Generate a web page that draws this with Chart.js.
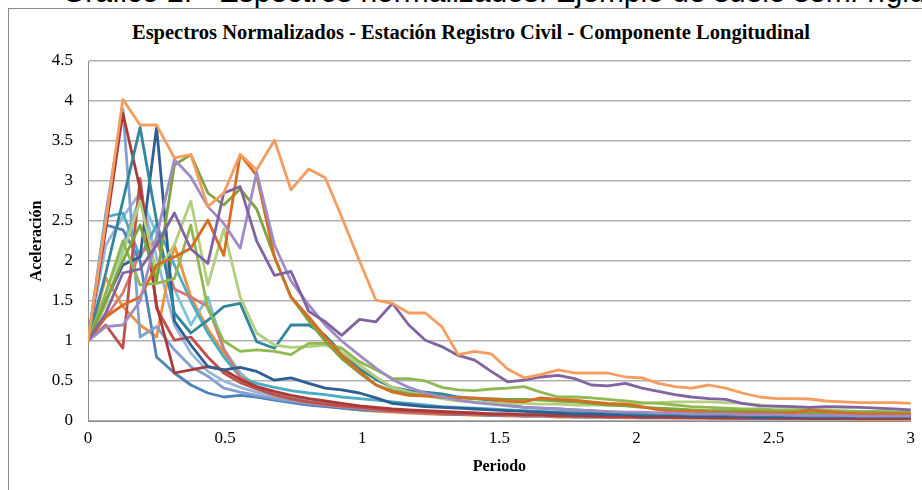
<!DOCTYPE html>
<html>
<head>
<meta charset="utf-8">
<script src="https://cdn.jsdelivr.net/npm/chart.js@4.4.1/dist/chart.umd.min.js"></script>
<style>
  html, body { margin: 0; padding: 0; background: #fff; width: 922px; height: 490px; overflow: hidden; }
  #pie { position: absolute; left: 0; top: -23px; width: 1100px; padding-left: 62px; box-sizing: border-box;
         font: 30px "Liberation Sans", Arial, sans-serif; line-height: 30px; white-space: nowrap; color: #000; }
  #marco { position: absolute; left: 8px; top: 8px; width: 1000px; height: 600px;
           border-left: 1px solid #8a8a8a; border-top: 1px solid #8a8a8a; }
  #titulo { position: absolute; left: 0; top: 20px; width: 942px; text-align: center;
            font: bold 20.5px "Liberation Serif", "Times New Roman", serif; line-height: 24px; color: #000; white-space: nowrap; }
  #lienzo { position: absolute; left: 0; top: 0; }
</style>
</head>
<body>
<div id="pie">Gráfico 2. - Espectros normalizados: Ejemplo de suelo semi-rígido</div>
<div id="marco"></div>
<div id="titulo">Espectros Normalizados - Estación Registro Civil - Componente Longitudinal</div>
<canvas id="lienzo" width="922" height="490"></canvas>
<script>
// Periodos (s)
const periodos = [0, 0.065, 0.127, 0.19, 0.25, 0.315, 0.375, 0.437, 0.495, 0.555,
  0.615, 0.68, 0.74, 0.805, 0.865, 0.925, 0.99, 1.05, 1.11, 1.17,
  1.23, 1.29, 1.35, 1.41, 1.47, 1.53, 1.59, 1.65, 1.715, 1.775,
  1.835, 1.895, 1.96, 2.02, 2.08, 2.14, 2.2, 2.265, 2.325, 2.385,
  2.45, 2.51, 2.57, 2.63, 2.69, 2.755, 2.815, 2.875, 2.94, 3.0];

// Aceleraciones espectrales normalizadas, un registro por arreglo
const registro01 = [1.00, 2.50, 4.02, 3.70, 3.70, 3.29, 3.33, 2.68, 2.85, 3.33,
  3.14, 3.51, 2.89, 3.15, 3.04, 2.55, 2.00, 1.51, 1.47, 1.35,
  1.35, 1.18, 0.83, 0.87, 0.84, 0.65, 0.54, 0.58, 0.64, 0.60,
  0.60, 0.60, 0.55, 0.54, 0.47, 0.43, 0.41, 0.45, 0.41, 0.35,
  0.30, 0.28, 0.28, 0.275, 0.25, 0.24, 0.23, 0.23, 0.23, 0.22];
const registro02 = [1.00, 1.35, 1.85, 1.90, 2.20, 2.60, 2.15, 1.97, 2.85, 2.93,
  2.25, 1.82, 1.87, 1.37, 1.24, 1.07, 1.27, 1.24, 1.47, 1.20,
  1.01, 0.93, 0.82, 0.76, 0.62, 0.49, 0.51, 0.55, 0.57, 0.53,
  0.45, 0.44, 0.47, 0.41, 0.37, 0.33, 0.30, 0.28, 0.27, 0.22,
  0.19, 0.185, 0.18, 0.17, 0.18, 0.175, 0.17, 0.16, 0.15, 0.14];
const registro03 = [1.00, 1.18, 1.20, 1.50, 2.30, 3.27, 3.05, 2.68, 2.47, 2.16,
  3.11, 2.20, 1.75, 1.45, 1.20, 1.00, 0.82, 0.66, 0.52, 0.42,
  0.35, 0.30, 0.26, 0.23, 0.21, 0.19, 0.17, 0.16, 0.15, 0.14,
  0.13, 0.12, 0.11, 0.11, 0.10, 0.10, 0.09, 0.09, 0.09, 0.08,
  0.08, 0.08, 0.07, 0.07, 0.07, 0.07, 0.06, 0.06, 0.06, 0.06];
const registro04 = [1.00, 1.30, 1.45, 1.55, 1.95, 2.05, 2.16, 2.51, 2.07, 3.33,
  3.07, 2.05, 1.55, 1.30, 1.05, 0.82, 0.62, 0.45, 0.36, 0.32,
  0.31, 0.30, 0.29, 0.29, 0.27, 0.25, 0.24, 0.29, 0.27, 0.26,
  0.24, 0.22, 0.21, 0.18, 0.14, 0.12, 0.12, 0.11, 0.10, 0.10,
  0.10, 0.10, 0.10, 0.14, 0.12, 0.10, 0.09, 0.09, 0.09, 0.09];
const registro05 = [1.00, 1.50, 2.00, 2.45, 1.75, 3.20, 3.33, 2.85, 2.70, 2.90,
  2.65, 2.05, 1.55, 1.25, 1.00, 0.78, 0.60, 0.45, 0.38, 0.34,
  0.32, 0.30, 0.29, 0.28, 0.28, 0.27, 0.27, 0.26, 0.25, 0.24,
  0.22, 0.20, 0.19, 0.17, 0.16, 0.15, 0.14, 0.13, 0.13, 0.12,
  0.12, 0.11, 0.11, 0.10, 0.10, 0.10, 0.10, 0.10, 0.10, 0.09];
const registro06 = [1.00, 1.60, 2.25, 1.70, 1.72, 1.78, 2.45, 1.40, 1.00, 0.87,
  0.89, 0.87, 0.83, 0.97, 0.97, 0.91, 0.74, 0.64, 0.53, 0.53,
  0.50, 0.42, 0.39, 0.38, 0.40, 0.41, 0.43, 0.36, 0.30, 0.30,
  0.29, 0.27, 0.25, 0.23, 0.22, 0.20, 0.18, 0.17, 0.16, 0.15,
  0.15, 0.14, 0.14, 0.13, 0.13, 0.12, 0.12, 0.12, 0.11, 0.11];
const registro07 = [1.00, 1.45, 2.10, 2.75, 1.85, 2.20, 2.75, 1.70, 2.40, 1.55,
  1.10, 0.95, 0.92, 0.93, 0.95, 0.86, 0.70, 0.55, 0.42, 0.36,
  0.32, 0.28, 0.25, 0.24, 0.23, 0.22, 0.22, 0.21, 0.21, 0.20,
  0.20, 0.20, 0.21, 0.22, 0.23, 0.24, 0.24, 0.24, 0.23, 0.22,
  0.20, 0.18, 0.17, 0.15, 0.14, 0.13, 0.12, 0.12, 0.11, 0.11];
const registro08 = [1.00, 1.85, 2.75, 3.67, 2.50, 1.35, 1.10, 1.26, 1.43, 1.47,
  0.99, 0.91, 1.20, 1.20, 1.07, 0.85, 0.65, 0.52, 0.42, 0.38,
  0.36, 0.34, 0.30, 0.28, 0.26, 0.20, 0.17, 0.16, 0.15, 0.14,
  0.13, 0.11, 0.10, 0.09, 0.09, 0.09, 0.08, 0.08, 0.08, 0.07,
  0.07, 0.07, 0.07, 0.06, 0.06, 0.06, 0.06, 0.06, 0.06, 0.06];
const registro09 = [1.00, 1.50, 1.95, 2.05, 3.67, 1.25, 0.95, 0.68, 0.64, 0.67,
  0.62, 0.51, 0.54, 0.47, 0.41, 0.39, 0.35, 0.29, 0.22, 0.20,
  0.18, 0.17, 0.16, 0.15, 0.14, 0.13, 0.12, 0.11, 0.10, 0.09,
  0.09, 0.08, 0.08, 0.07, 0.07, 0.07, 0.06, 0.06, 0.06, 0.06,
  0.05, 0.05, 0.05, 0.05, 0.05, 0.05, 0.05, 0.05, 0.05, 0.05];
const registro10 = [1.00, 2.40, 3.85, 2.90, 1.45, 0.60, 0.64, 0.68, 0.64, 0.52,
  0.43, 0.37, 0.32, 0.28, 0.25, 0.22, 0.19, 0.17, 0.15, 0.14,
  0.13, 0.12, 0.11, 0.10, 0.09, 0.09, 0.08, 0.08, 0.07, 0.07,
  0.06, 0.06, 0.06, 0.05, 0.05, 0.05, 0.05, 0.04, 0.04, 0.04,
  0.04, 0.04, 0.04, 0.03, 0.03, 0.03, 0.03, 0.03, 0.03, 0.03];
const registro11 = [1.00, 1.20, 0.91, 3.03, 1.41, 1.01, 1.05, 0.80, 0.60, 0.48,
  0.40, 0.33, 0.28, 0.24, 0.21, 0.19, 0.17, 0.15, 0.13, 0.12,
  0.11, 0.10, 0.09, 0.09, 0.08, 0.08, 0.07, 0.07, 0.06, 0.06,
  0.06, 0.05, 0.05, 0.05, 0.05, 0.04, 0.04, 0.04, 0.04, 0.04,
  0.04, 0.03, 0.03, 0.03, 0.03, 0.03, 0.03, 0.03, 0.03, 0.03];
const registro12 = [1.00, 1.30, 1.60, 2.10, 2.25, 1.65, 1.55, 1.43, 0.90, 0.55,
  0.42, 0.33, 0.27, 0.23, 0.20, 0.18, 0.16, 0.14, 0.12, 0.11,
  0.10, 0.09, 0.09, 0.08, 0.08, 0.07, 0.07, 0.07, 0.06, 0.06,
  0.06, 0.05, 0.05, 0.05, 0.05, 0.05, 0.04, 0.04, 0.04, 0.04,
  0.04, 0.04, 0.04, 0.04, 0.03, 0.03, 0.03, 0.03, 0.03, 0.03];
const registro13 = [1.00, 2.60, 3.90, 1.05, 1.18, 0.89, 0.68, 0.56, 0.41, 0.36,
  0.32, 0.28, 0.25, 0.22, 0.20, 0.18, 0.16, 0.14, 0.13, 0.12,
  0.11, 0.10, 0.09, 0.09, 0.08, 0.08, 0.07, 0.07, 0.07, 0.06,
  0.06, 0.06, 0.05, 0.05, 0.05, 0.05, 0.05, 0.04, 0.04, 0.04,
  0.04, 0.04, 0.04, 0.04, 0.04, 0.03, 0.03, 0.03, 0.03, 0.03];
const registro14 = [1.00, 2.45, 2.39, 2.00, 0.80, 0.60, 0.45, 0.35, 0.30, 0.32,
  0.30, 0.26, 0.23, 0.20, 0.18, 0.16, 0.14, 0.13, 0.12, 0.11,
  0.10, 0.09, 0.08, 0.08, 0.07, 0.07, 0.06, 0.06, 0.06, 0.05,
  0.05, 0.05, 0.05, 0.04, 0.04, 0.04, 0.04, 0.04, 0.04, 0.03,
  0.03, 0.03, 0.03, 0.03, 0.03, 0.03, 0.03, 0.03, 0.03, 0.03];
const registro15 = [1.00, 2.55, 2.60, 2.05, 2.45, 1.95, 1.50, 1.10, 0.80, 0.55,
  0.47, 0.42, 0.38, 0.35, 0.33, 0.30, 0.28, 0.26, 0.24, 0.22,
  0.20, 0.18, 0.17, 0.16, 0.15, 0.14, 0.13, 0.12, 0.11, 0.11,
  0.10, 0.10, 0.09, 0.09, 0.09, 0.08, 0.08, 0.08, 0.08, 0.07,
  0.07, 0.07, 0.07, 0.07, 0.06, 0.06, 0.06, 0.06, 0.06, 0.06];
const registro16 = [1.00, 1.60, 2.20, 2.80, 2.35, 1.65, 1.20, 1.55, 0.90, 0.60,
  0.42, 0.34, 0.29, 0.25, 0.22, 0.19, 0.17, 0.15, 0.14, 0.13,
  0.12, 0.11, 0.10, 0.09, 0.09, 0.08, 0.08, 0.07, 0.07, 0.07,
  0.06, 0.06, 0.06, 0.06, 0.05, 0.05, 0.05, 0.05, 0.05, 0.05,
  0.04, 0.04, 0.04, 0.04, 0.04, 0.04, 0.04, 0.04, 0.04, 0.04];
const registro17 = [1.00, 1.79, 1.43, 1.20, 1.05, 2.20, 1.55, 1.15, 0.85, 0.60,
  0.42, 0.32, 0.26, 0.22, 0.19, 0.16, 0.14, 0.12, 0.11, 0.10,
  0.09, 0.08, 0.08, 0.07, 0.07, 0.06, 0.06, 0.06, 0.05, 0.05,
  0.05, 0.05, 0.04, 0.04, 0.04, 0.04, 0.04, 0.04, 0.03, 0.03,
  0.03, 0.03, 0.03, 0.03, 0.03, 0.03, 0.02, 0.02, 0.02, 0.02];
const registro18 = [1.00, 2.20, 2.55, 2.85, 2.05, 1.20, 0.85, 0.62, 0.50, 0.42,
  0.36, 0.31, 0.27, 0.24, 0.21, 0.19, 0.17, 0.15, 0.14, 0.13,
  0.12, 0.11, 0.10, 0.10, 0.09, 0.09, 0.08, 0.08, 0.08, 0.07,
  0.07, 0.07, 0.06, 0.06, 0.06, 0.06, 0.05, 0.05, 0.05, 0.05,
  0.05, 0.05, 0.05, 0.04, 0.04, 0.04, 0.04, 0.04, 0.04, 0.04];

// Orden de dibujo: el primero queda encima
const registros = [registro01, registro02, registro03, registro04, registro05, registro06,
  registro07, registro08, registro09, registro10, registro11, registro12,
  registro13, registro14, registro15, registro16, registro17, registro18];
const colores = ['#F59D5E', '#8064A2', '#A08BC4', '#D66D24', '#7EA33F', '#92B852',
  '#B3CE7E', '#31859C', '#2F5E92', '#A83B38', '#C0504D', '#D27C79',
  '#7FA0D0', '#4F81BD', '#4BACC6', '#7DC4D8', '#F0913F', '#9AB5DA'];

const serif = '"Liberation Serif", "Times New Roman", serif';
const numero = v => String(Math.round(v * 100) / 100);

const conjuntos = registros.map((serie, i) => ({
  data: serie.map((v, k) => ({ x: periodos[k], y: v })),
  borderColor: colores[i],
  backgroundColor: colores[i],
  borderWidth: 2.8,
  pointRadius: 0,
  tension: 0,
  fill: false,
  borderJoinStyle: 'round',
  borderCapStyle: 'round'
}));

new Chart(document.getElementById('lienzo'), {
  type: 'line',
  data: { datasets: conjuntos },
  options: {
    responsive: false,
    animation: false,
    layout: { padding: { left: 0, right: 10, top: 61, bottom: 0 } },
    plugins: { legend: { display: false }, tooltip: { enabled: false }, title: { display: false } },
    scales: {
      x: {
        type: 'linear', min: 0, max: 3,
        ticks: { stepSize: 0.5, padding: 7, color: '#000', maxRotation: 0,
                 font: { family: serif, size: 17 }, callback: numero },
        grid: { display: false, drawTicks: false },
        border: { display: true, color: '#8c8c8c', width: 1 },
        title: { display: true, text: 'Periodo', color: '#000',
                 font: { family: serif, size: 16, weight: 'bold' }, padding: { top: 0, bottom: 14 } },
        afterFit(s) { s.height = 69; }
      },
      y: {
        min: 0, max: 4.5,
        ticks: { stepSize: 0.5, padding: 15, color: '#000', font: { family: serif, size: 17 }, callback: numero },
        grid: { color: '#b0b0b0', lineWidth: 1.5, drawTicks: false },
        border: { display: true, color: '#8c8c8c', width: 1 },
        title: { display: true, text: 'Aceleración', color: '#000',
                 font: { family: serif, size: 16, weight: 'bold' }, padding: { top: 27, bottom: 0 } },
        afterFit(s) { s.width = 88; }
      }
    }
  }
});
</script>
</body>
</html>
